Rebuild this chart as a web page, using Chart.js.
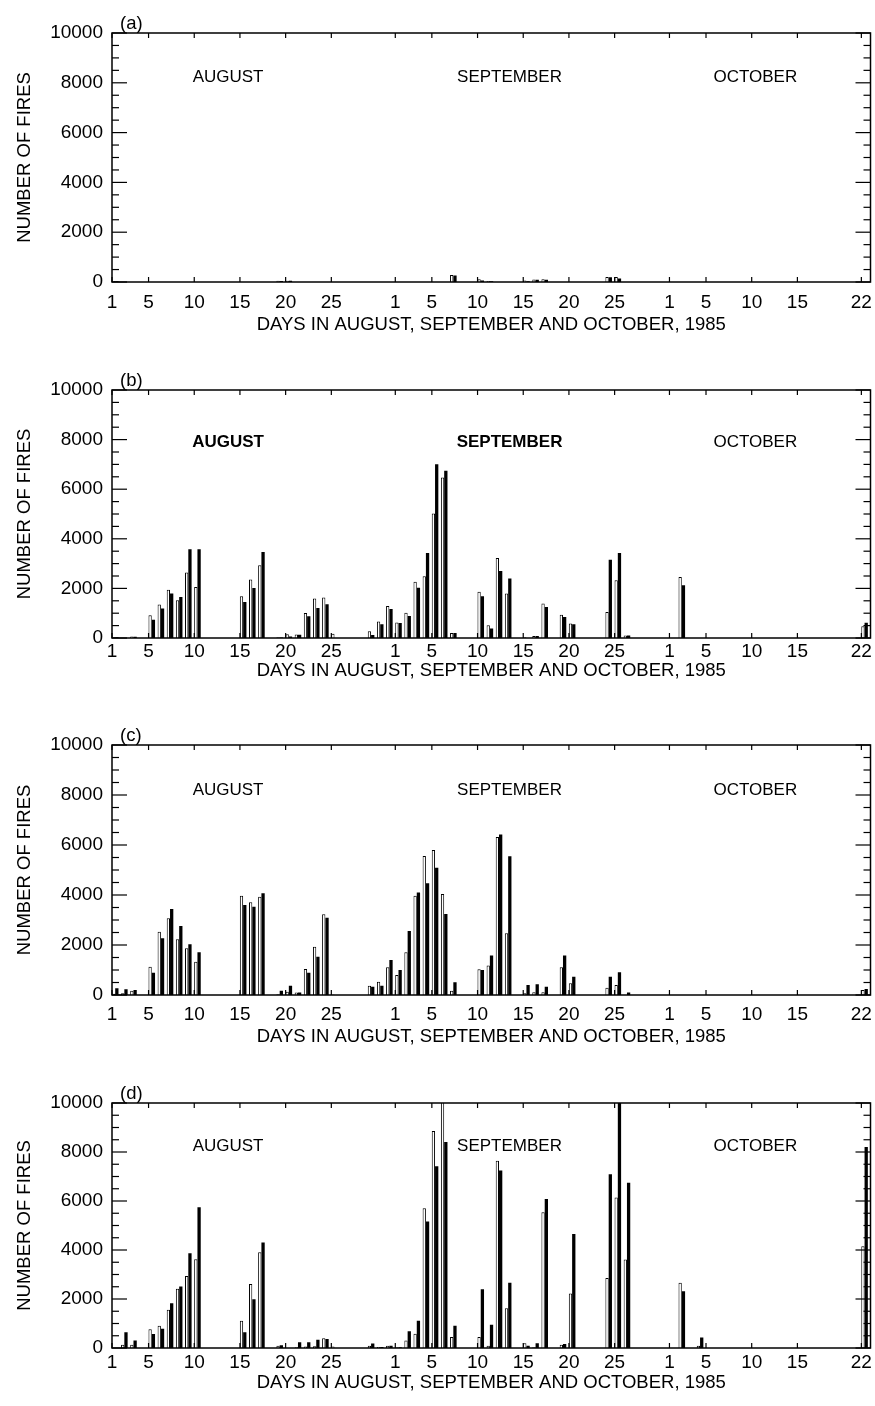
<!DOCTYPE html>
<html>
<head>
<meta charset="utf-8">
<title>numero de incendios - agosto a octubre 1985</title>
<script src="https://cdn.jsdelivr.net/npm/chart.js@4.4.1/dist/chart.umd.min.js"></script>
<style>
    html, body { margin: 0; padding: 0; background: #ffffff; }
    body { width: 875px; height: 1406px; position: relative; overflow: hidden; }
    canvas { position: absolute; left: 0; }
</style>
</head>
<body>
<canvas id="panel-a"></canvas>
<canvas id="panel-b"></canvas>
<canvas id="panel-c"></canvas>
<canvas id="panel-d"></canvas>

<script>
// ===========================================================
// datos de la figura: cantidad de incendios por dia,
// del 1 de agosto al 22 de octubre de 1985 (83 dias).
// cada dia tiene dos barras: una abierta (blanca) y una llena (negra)
// ===========================================================

// etiquetas del eje x y el mes al que pertenece cada una
const etiquetas_x = ['1', '5', '10', '15', '20', '25', '1', '5', '10', '15', '20', '25', '1', '5', '10', '15', '22'];
const mes_de_etiqueta = [0, 0, 0, 0, 0, 0, 1, 1, 1, 1, 1, 1, 2, 2, 2, 2, 2];
const inicio_de_mes = [0, 31, 61];   // indice del dia 1 de cada mes
const meses = ['AUGUST', 'SEPTEMBER', 'OCTOBER'];
const etiquetas_panel = ['(a)', '(b)', '(c)', '(d)'];

const titulo_x = 'DAYS IN AUGUST, SEPTEMBER AND OCTOBER, 1985';
const titulo_y = 'NUMBER OF FIRES';

// ----------------------- panel (a) -------------------------
const a_abiertas = [
    40, 0, 0, 0, 0,  0, 0, 0, 0, 0,  0, 0, 0, 0, 0,  0, 0, 0, 50, 50,  0, 0, 0, 0, 0,  0, 0, 0, 0, 0,  0,   // agosto
    0, 0, 0, 0, 0,  0, 280, 0, 0, 110,  40, 0, 0, 0, 60,  100, 110, 0, 0, 0,  0, 0, 0, 200, 200,  0, 0, 0, 0, 0,   // septiembre
    0, 0, 0, 0, 0,  0, 0, 0, 0, 0,  0, 0, 0, 0, 0,  0, 0, 0, 0, 0,  0, 0   // octubre
];
const a_llenas = [
    30, 0, 0, 0, 0,  0, 0, 0, 0, 0,  0, 0, 0, 0, 0,  0, 0, 0, 40, 50,  0, 0, 0, 0, 0,  0, 0, 0, 0, 0,  0,
    0, 0, 0, 0, 0,  0, 260, 0, 0, 60,  30, 0, 0, 0, 30,  90, 90, 0, 0, 0,  0, 0, 0, 190, 140,  0, 0, 0, 0, 0,
    0, 0, 0, 0, 0,  0, 0, 0, 0, 0,  0, 0, 0, 0, 0,  0, 0, 0, 0, 0,  0, 0
];

// ----------------------- panel (b) -------------------------
const b_abiertas = [
    30, 0, 60, 0, 915,  1350, 1950, 1520, 2640, 2060,  0, 0, 0, 0, 1680,  2355, 2935, 0, 30, 150,  140, 1010, 1590, 1630, 170,  0, 0, 0, 270, 670,  1290,
    620, 1020, 2270, 2490, 5020,  6470, 200, 0, 0, 1860,  510, 3230, 1790, 0, 30,  80, 1390, 0, 940, 580,  0, 0, 0, 1050, 2330,  100, 0, 0, 0, 0,
    0, 2460, 0, 0, 0,  0, 0, 0, 0, 0,  0, 0, 0, 0, 0,  0, 0, 0, 0, 0,  0, 470
];
const b_llenas = [
    30, 0, 50, 0, 740,  1185, 1790, 1655, 3580, 3580,  0, 0, 0, 0, 1450,  2020, 3470, 0, 20, 60,  130, 875, 1210, 1360, 0,  0, 0, 0, 120, 550,  1170,
    600, 890, 2030, 3430, 7010,  6740, 200, 0, 0, 1680,  380, 2700, 2400, 0, 0,  80, 1250, 0, 850, 550,  0, 0, 0, 3160, 3430,  100, 0, 0, 0, 0,
    0, 2130, 0, 0, 0,  0, 0, 0, 0, 0,  0, 0, 0, 0, 0,  0, 0, 0, 0, 0,  0, 610
];

// ----------------------- panel (c) -------------------------
const c_abiertas = [
    50, 70, 170, 0, 1130,  2530, 3070, 2230, 1870, 1330,  0, 0, 0, 0, 3970,  3710, 3930, 0, 30, 130,  100, 1040, 1930, 3230, 20,  0, 0, 0, 370, 530,  1110,
    800, 1710, 3970, 5560, 5800,  4040, 170, 0, 0, 1030,  1180, 6320, 2470, 0, 70,  110, 110, 0, 1110, 470,  0, 0, 0, 290, 400,  0, 0, 0, 0, 0,
    0, 0, 0, 0, 0,  0, 0, 0, 0, 0,  0, 0, 0, 0, 0,  0, 0, 0, 0, 0,  0, 200
];
const c_llenas = [
    270, 230, 200, 0, 890,  2270, 3440, 2760, 2030, 1710,  0, 0, 0, 0, 3600,  3530, 4070, 0, 170, 370,  100, 890, 1530, 3090, 0,  0, 0, 0, 330, 370,  1400,
    1000, 2560, 4100, 4470, 5090,  3240, 510, 0, 0, 1000,  1580, 6420, 5550, 0, 400,  430, 330, 0, 1580, 735,  0, 0, 0, 735, 910,  100, 0, 0, 0, 0,
    0, 0, 0, 0, 0,  0, 0, 0, 0, 0,  0, 0, 0, 0, 0,  0, 0, 0, 0, 0,  0, 240
];

// ----------------------- panel (d) -------------------------
// los valores de 10800 salen por encima del borde superior (se cortan)
const d_abiertas = [
    0, 135, 135, 0, 770,  910, 1560, 2420, 2940, 3620,  0, 0, 0, 0, 1110,  2610, 3910, 0, 95, 0,  30, 60, 70, 400, 60,  0, 0, 0, 95, 40,  95,
    30, 310, 580, 5700, 8860,  10800, 450, 0, 0, 450,  95, 7640, 1620, 0, 190,  30, 5540, 0, 135, 2220,  0, 0, 0, 2860, 6140,  3610, 0, 0, 0, 0,
    0, 2660, 0, 95, 0,  0, 0, 0, 0, 0,  0, 0, 0, 0, 0,  0, 0, 0, 0, 0,  0, 4150
];
const d_llenas = [
    0, 640, 310, 0, 570,  790, 1830, 2510, 3870, 5740,  0, 0, 0, 0, 640,  1990, 4310, 0, 110, 0,  230, 230, 340, 370, 0,  0, 0, 0, 180, 40,  95,
    30, 680, 1110, 5160, 7420,  8410, 910, 0, 0, 2400,  950, 7240, 2660, 0, 95,  190, 6080, 0, 160, 4650,  0, 0, 0, 7090, 10800,  6740, 0, 0, 0, 0,
    0, 2320, 0, 430, 0,  0, 0, 0, 0, 0,  0, 0, 0, 0, 0,  0, 0, 0, 0, 0,  0, 8200
];

const series = [
    [a_abiertas, a_llenas],
    [b_abiertas, b_llenas],
    [c_abiertas, c_llenas],
    [d_abiertas, d_llenas]
];

// -----------------------------------------------------------
// ubicacion de cada panel en la pagina (pixeles) y ajustes de texto
// -----------------------------------------------------------
const disposicion = [
    { arriba: 33,   abajo: 282,  sep_ticks: 9.5, sep_titulo: 6,  y_meses: 8230, meses_negrita: false },
    { arriba: 390,  abajo: 638,  sep_ticks: 2.5, sep_titulo: 16, y_meses: 7900, meses_negrita: true },
    { arriba: 745,  abajo: 995,  sep_ticks: 8.5, sep_titulo: 7,  y_meses: 8190, meses_negrita: false },
    { arriba: 1103, abajo: 1348, sep_ticks: 3.5, sep_titulo: 14, y_meses: 8220, meses_negrita: false }
];
const centro_meses = [12.7, 43.5, 70.4];   // centro de cada nombre de mes, en dias
const desplazamiento_barras = 0.35;        // el par de barras arranca en el tick del dia
const margen_superior = 33;
const alto_eje_x = 60;
const ancho_eje_y = 112;
const fuente = 'Liberation Sans, Arial, Helvetica, sans-serif';

Chart.defaults.color = '#000';
Chart.defaults.font.family = fuente;

// posicion (en dias desde el 1 de agosto) de cada etiqueta del eje x
const posiciones_x = etiquetas_x.map((txt, i) => inicio_de_mes[mes_de_etiqueta[i]] + Number(txt) - 1);


// -----------------------------------------------------------
// plugin: dibuja el marco, las marcas hacia adentro en los
// cuatro lados, los nombres de los meses y la letra del panel
// -----------------------------------------------------------
const plugin_marco = {
    id: 'marco',
    afterDatasetsDraw(chart, args, opciones) {
        const { ctx, chartArea: area } = chart;
        const eje_x = chart.scales.x;
        const eje_y = chart.scales.y;

        const linea = (x1, y1, x2, y2) => {
            ctx.beginPath();
            ctx.moveTo(x1, y1);
            ctx.lineTo(x2, y2);
            ctx.stroke();
        };

        ctx.save();
        ctx.strokeStyle = '#000';
        ctx.lineWidth = 1.2;

        // marcas del eje y: largas cada 2000, cortas cada 500 (izquierda y derecha)
        for (let v = 0; v <= 10000; v += 500) {
            const py = eje_y.getPixelForValue(v);
            const largo = v % 2000 === 0 ? 15 : 7;
            linea(area.left, py, area.left + largo, py);
            linea(area.right - largo, py, area.right, py);
        }

        // marcas del eje x (abajo y arriba)
        for (const tick of eje_x.ticks) {
            const px = eje_x.getPixelForValue(tick.value);
            linea(px, area.bottom, px, area.bottom - 5);
            linea(px, area.top, px, area.top + 5);
        }

        // marco del grafico
        ctx.lineWidth = 1.5;
        ctx.strokeRect(area.left, area.top, area.right - area.left, area.bottom - area.top);

        // nombres de los meses
        ctx.fillStyle = '#000';
        ctx.textAlign = 'center';
        ctx.textBaseline = 'middle';
        meses.forEach((mes, i) => {
            const negrita = opciones.meses_negrita && i < 2;
            ctx.font = (negrita ? 'bold ' : '') + '17px ' + fuente;
            ctx.fillText(mes, eje_x.getPixelForValue(centro_meses[i]), eje_y.getPixelForValue(opciones.y_meses));
        });

        // letra del panel, arriba a la izquierda
        ctx.textAlign = 'left';
        ctx.font = '18.5px ' + fuente;
        ctx.fillText(opciones.letra, area.left + 8, area.top - 9);

        ctx.restore();
    }
};


// -----------------------------------------------------------
// funcion: crear_panel
// arma un grafico de barras con eje x lineal (dias)
// -----------------------------------------------------------
function crear_panel(indice) {
    const d = disposicion[indice];
    const [abiertas, llenas] = series[indice];

    const lienzo = document.getElementById('panel-' + 'abcd'[indice]);
    const alto = (d.abajo - d.arriba) + margen_superior + alto_eje_x;
    lienzo.width = 875;
    lienzo.height = alto;
    lienzo.style.top = (d.arriba - margen_superior) + 'px';

    const a_puntos = lista => lista.map((v, i) => ({ x: i + desplazamiento_barras, y: v }));

    new Chart(lienzo, {
        type: 'bar',
        data: {
            datasets: [
                {
                    label: 'abiertas',
                    data: a_puntos(abiertas),
                    backgroundColor: '#ffffff',
                    borderColor: '#000000',
                    borderWidth: 1
                },
                {
                    label: 'llenas',
                    data: a_puntos(llenas),
                    backgroundColor: '#000000',
                    borderColor: '#000000',
                    borderWidth: 0
                }
            ]
        },
        options: {
            responsive: false,
            animation: false,
            devicePixelRatio: 1,
            layout: { padding: { top: margen_superior, right: 4.5, left: 0, bottom: 0 } },
            datasets: { bar: { categoryPercentage: 0.72, barPercentage: 1 } },
            plugins: {
                legend: { display: false },
                tooltip: { enabled: false },
                marco: { letra: etiquetas_panel[indice], y_meses: d.y_meses, meses_negrita: d.meses_negrita }
            },
            scales: {
                x: {
                    type: 'linear',
                    min: 0,
                    max: 83,
                    offset: false,
                    grid: { display: false, drawTicks: false },
                    border: { display: false },
                    afterBuildTicks: eje => { eje.ticks = posiciones_x.map(v => ({ value: v })); },
                    afterFit: eje => { eje.height = alto_eje_x; eje.paddingLeft = 0; eje.paddingRight = 0; },
                    ticks: {
                        autoSkip: false,
                        maxRotation: 0,
                        padding: d.sep_ticks,
                        font: { size: 19 },
                        callback: (valor, i) => etiquetas_x[i]
                    },
                    title: {
                        display: true,
                        text: titulo_x,
                        font: { size: 18.5 },
                        padding: { top: 0, bottom: d.sep_titulo }
                    }
                },
                y: {
                    min: 0,
                    max: 10000,
                    grid: { display: false, drawTicks: false },
                    border: { display: false },
                    afterFit: eje => { eje.width = ancho_eje_y; eje.paddingTop = 0; eje.paddingBottom = 0; },
                    ticks: {
                        stepSize: 2000,
                        padding: 9,
                        font: { size: 19 },
                        callback: valor => String(valor)
                    },
                    title: {
                        display: true,
                        text: titulo_y,
                        font: { size: 18.5 },
                        padding: { top: 14, bottom: 0 }
                    }
                }
            }
        },
        plugins: [plugin_marco]
    });
}

for (let i = 0; i < 4; i++) crear_panel(i);
</script>
</body>
</html>
